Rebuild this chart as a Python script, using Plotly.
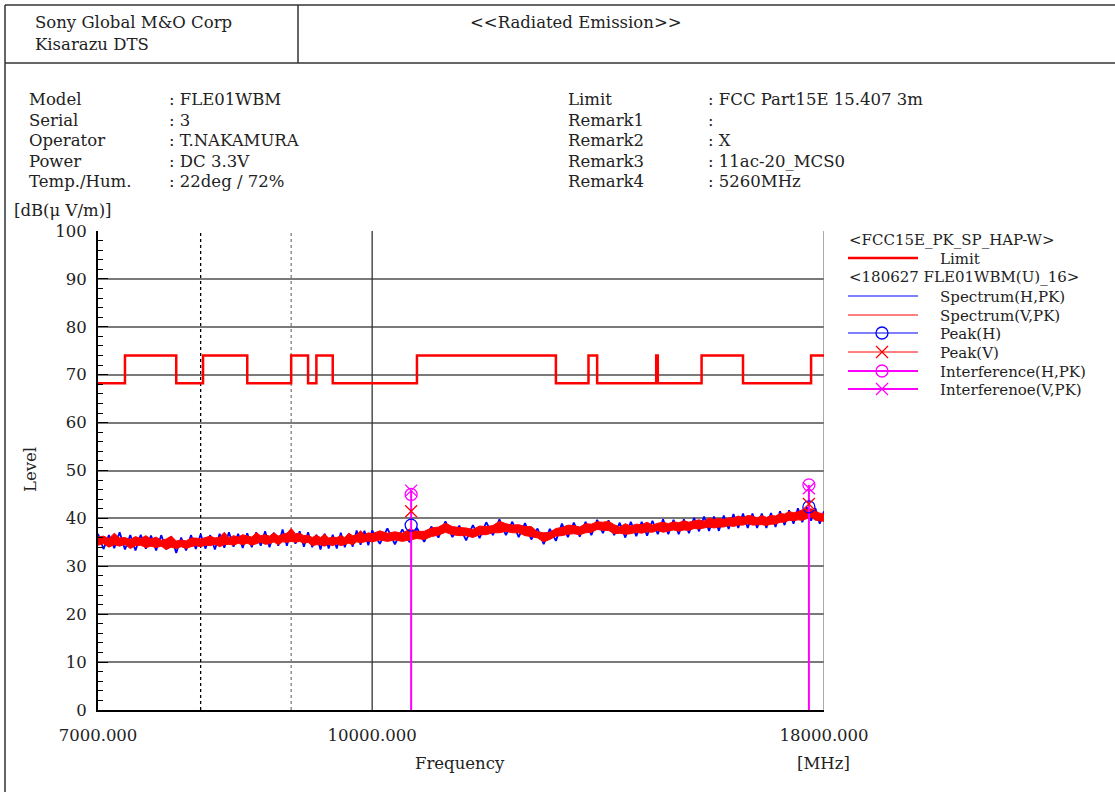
"""
Radiated Emission plot - FLE01WBM, 7-18 GHz, FCC Part15E 15.407 3m
"""

import plotly.graph_objects as go

# ---- data ---------------------------------------------------------------
# frequency grid of the sweep [MHz]
FREQ = list(range(7000, 10000, 50)) + list(range(10000, 18001, 100))

# Spectrum(H,PK) [dBuV/m]
SPEC_H = [
    36.8, 33.6, 36.5, 33.8, 37.1, 33.5, 36.5, 33.3, 36.6, 33.7,
    36.4, 33.3, 36.5, 33.5, 36.2, 32.8, 36.0, 33.3, 36.5, 33.6,
    36.7, 33.7, 36.5, 33.5, 36.8, 33.9, 37.1, 34.1, 36.8, 33.8,
    36.9, 34.0, 37.1, 34.3, 37.3, 34.0, 37.0, 34.3, 37.7, 34.3,
    37.6, 34.7, 37.3, 34.1, 37.1, 34.0, 36.6, 33.5, 36.8, 33.7,
    36.6, 33.7, 37.0, 34.0, 36.8, 34.1, 37.5, 34.5, 37.4, 34.4,
    37.5, 34.7, 37.9, 34.6, 37.7, 35.0, 38.0, 35.1, 38.3, 36.0,
    39.4, 36.1, 38.5, 35.4, 38.6, 35.9, 39.2, 36.5, 39.8, 36.5,
    39.3, 36.1, 39.0, 35.6, 37.9, 34.6, 37.8, 35.3, 38.9, 36.1,
    39.1, 36.2, 39.3, 36.5, 39.7, 36.9, 39.6, 36.5, 39.1, 36.0,
    39.3, 36.3, 39.3, 36.4, 39.5, 36.7, 39.8, 36.7, 39.7, 36.7,
    39.8, 36.9, 40.1, 37.3, 40.4, 37.4, 40.4, 37.4, 40.6, 37.8,
    40.9, 38.0, 41.0, 38.0, 41.0, 38.0, 41.0, 38.0, 41.1, 38.2,
    41.5, 38.6, 41.7, 38.9, 42.1, 39.2, 42.4, 39.5, 42.1, 38.9,
    41.5,
]

# Spectrum(V,PK) [dBuV/m], max / min of each display bucket
SPEC_V_MAX = [
    36.1, 36.3, 35.8, 36.9, 35.9, 36.0, 35.6, 36.2, 35.8, 36.4,
    35.7, 36.1, 35.4, 35.7, 36.3, 35.3, 35.5, 35.3, 35.9, 35.9,
    35.7, 36.0, 36.3, 35.9, 36.1, 37.1, 35.9, 36.4, 36.1, 36.6,
    36.4, 36.1, 37.0, 36.4, 36.6, 36.3, 37.0, 36.3, 36.7, 36.9,
    37.9, 36.8, 36.9, 36.4, 36.5, 36.0, 36.5, 36.0, 36.7, 35.9,
    36.1, 36.0, 36.4, 36.0, 36.9, 36.4, 36.6, 37.4, 36.6, 37.0,
    36.8, 37.4, 36.9, 37.2, 36.9, 37.8, 37.3, 37.3, 38.0, 38.2,
    39.0, 38.3, 38.1, 38.0, 37.7, 38.4, 38.3, 38.5, 39.4, 38.9,
    38.6, 38.7, 38.3, 38.3, 37.2, 37.0, 37.1, 37.9, 38.1, 38.6,
    38.5, 38.2, 38.9, 38.8, 39.3, 39.2, 39.4, 38.7, 38.2, 38.9,
    38.4, 38.8, 38.7, 39.2, 38.6, 39.0, 39.2, 38.9, 39.3, 39.1,
    39.5, 39.2, 39.5, 39.7, 39.4, 40.1, 39.8, 40.0, 39.8, 40.1,
    40.1, 40.5, 40.2, 40.6, 40.5, 40.1, 40.6, 40.2, 40.6, 40.5,
    41.0, 40.9, 41.4, 41.2, 41.4, 41.8, 41.9, 42.0, 41.5, 41.1,
    41.0,
]
SPEC_V_MIN = [
    34.4, 34.7, 34.0, 34.5, 34.2, 34.6, 33.7, 34.3, 34.4, 33.9,
    34.2, 33.9, 34.2, 33.5, 34.0, 33.7, 34.1, 33.7, 34.1, 34.3,
    34.1, 34.4, 34.3, 34.6, 34.1, 34.5, 34.6, 34.4, 34.8, 34.5,
    34.8, 34.4, 34.7, 35.0, 34.6, 34.7, 35.1, 34.5, 35.1, 35.0,
    35.2, 35.0, 35.2, 34.8, 35.0, 34.3, 34.5, 34.5, 34.2, 34.6,
    34.3, 34.7, 34.3, 34.6, 34.8, 34.5, 35.1, 34.9, 35.1, 35.3,
    35.1, 35.5, 35.2, 35.5, 35.2, 35.5, 35.8, 35.6, 36.2, 36.5,
    37.1, 36.6, 36.4, 36.4, 36.0, 36.6, 36.6, 37.0, 37.0, 37.3,
    37.0, 37.0, 36.4, 36.2, 35.9, 35.1, 35.6, 36.3, 36.4, 36.7,
    36.8, 36.6, 37.0, 37.1, 37.7, 37.5, 37.5, 36.8, 36.9, 36.7,
    36.8, 37.1, 36.9, 37.2, 37.1, 37.5, 37.1, 37.4, 37.6, 37.3,
    37.6, 37.5, 37.9, 37.8, 38.0, 38.2, 38.0, 38.2, 38.2, 38.5,
    38.3, 38.6, 38.6, 38.9, 38.6, 38.7, 38.7, 38.5, 38.8, 38.8,
    39.2, 39.2, 39.6, 39.5, 39.7, 39.6, 40.0, 40.3, 39.6, 39.5,
    39.4,
]

# FCC 15.407 limit (step, value held until next frequency)
LIMIT_FREQ = [7000, 7250, 7750, 8025, 8500, 9000, 9200, 9300, 9500, 10600,
              12700, 13250, 13400, 14470, 14500, 15350, 16200, 17700, 18000]
LIMIT_LEVEL = [68.2, 74.0, 68.2, 74.0, 68.2, 74.0, 68.2, 74.0, 68.2, 74.0,
               68.2, 74.0, 68.2, 74.0, 68.2, 74.0, 68.2, 74.0, 74.0]

# detected peaks
PEAK_FREQ = [10520, 17650]
PEAK_H = [38.6, 42.4]
PEAK_V = [41.5, 43.0]
INTERF_H = [45.0, 47.0]
INTERF_V = [45.8, 46.3]

# header info
INFO_LEFT = ["Model", "Serial", "Operator", "Power", "Temp./Hum."]
INFO_LEFT_VAL = ["FLE01WBM", "3", "T.NAKAMURA", "DC 3.3V", "22deg / 72%"]
INFO_RIGHT = ["Limit", "Remark1", "Remark2", "Remark3", "Remark4"]
INFO_RIGHT_VAL = ["FCC Part15E 15.407 3m", "", "X", "11ac-20_MCS0", "5260MHz"]

FONT = "DejaVu Serif"
FS = 16.5
RED = "#ff0000"
BLUE = "#0000ff"
MAG = "#ff00ff"

# plot area in pixels: x 98..824, y 231..710
L, R, T, B = 98, 824, 231, 710


def px(x):
    return (x - L) / (R - L)


def py(y):
    return (B - y) / (B - T)


fig = go.Figure()

# vertical grid lines (8000 dotted, 9000 dotted grey, 10000 solid)
for f, col, dash in [(8000, "black", "dot"), (9000, "#808080", "dot"),
                     (10000, "#333333", "solid"), (18000, "#808080", "solid")]:
    fig.add_trace(go.Scatter(x=[f, f], y=[0, 100], mode="lines",
                             line=dict(color=col, width=1.3, dash=dash),
                             hoverinfo="skip", showlegend=False))

fig.add_trace(go.Scatter(x=FREQ, y=SPEC_H, mode="lines", name="Spectrum(H,PK)",
                         line=dict(color=BLUE, width=1.8)))
fig.add_trace(go.Scatter(x=FREQ + FREQ[::-1], y=SPEC_V_MAX + SPEC_V_MIN[::-1],
                         mode="lines", fill="toself", fillcolor=RED,
                         name="Spectrum(V,PK)", line=dict(color=RED, width=1)))

fig.add_trace(go.Scatter(x=LIMIT_FREQ, y=LIMIT_LEVEL, mode="lines", name="Limit",
                         line=dict(color=RED, width=2.5, shape="hv")))

# interference stems down to the axis
stem_x, stem_y = [], []
for f, a, b in zip(PEAK_FREQ, INTERF_H, INTERF_V):
    stem_x += [f, f, None]
    stem_y += [0, max(a, b), None]
fig.add_trace(go.Scatter(x=stem_x, y=stem_y, mode="lines", line=dict(color=MAG, width=2),
                         hoverinfo="skip", showlegend=False))

mk = dict(size=12, line=dict(width=1.3))
fig.add_trace(go.Scatter(x=PEAK_FREQ, y=PEAK_H, mode="markers", name="Peak(H)",
                         marker=dict(symbol="circle-open", color=BLUE, **mk)))
fig.add_trace(go.Scatter(x=PEAK_FREQ, y=PEAK_V, mode="markers", name="Peak(V)",
                         marker=dict(symbol="x-thin-open", color=RED, **mk)))
fig.add_trace(go.Scatter(x=PEAK_FREQ, y=INTERF_H, mode="markers", name="Interference(H,PK)",
                         marker=dict(symbol="circle-open", color=MAG, **mk)))
fig.add_trace(go.Scatter(x=PEAK_FREQ, y=INTERF_V, mode="markers", name="Interferenoe(V,PK)",
                         marker=dict(symbol="x-thin-open", color=MAG, **mk)))

# ---- annotations / texts ----------------------------------------------------
ann = []


def text(x, y, s, anchor="left", angle=0, size=FS):
    ann.append(dict(x=px(x), y=py(y), xref="paper", yref="paper", text=s,
                    showarrow=False, xanchor=anchor, yanchor="middle", textangle=angle,
                    font=dict(family=FONT, size=size, color="#222222")))


text(33, 23, "Sony Global M&O Corp")
text(33, 44, "Kisarazu DTS")
text(468, 23, "&lt;&lt;Radiated Emission&gt;&gt;")

rows_y = [99, 120, 140, 161, 182]
for yy, a, b in zip(rows_y, INFO_LEFT, INFO_LEFT_VAL):
    text(27, yy, a)
    text(167, yy, ": " + b)
for yy, a, b in zip(rows_y, INFO_RIGHT, INFO_RIGHT_VAL):
    text(566, yy, a)
    text(706, yy, ": " + b if b else ":")

text(12, 211, "[dB(μ V/m)]")
text(30, 470, "Level", anchor="center", angle=-90)
text(460, 763, "Frequency", anchor="center")
text(823, 763, "[MHz]", anchor="center")

# custom legend
LFS = 15
text(847, 240, "&lt;FCC15E_PK_SP_HAP-W&gt;", size=LFS)
text(847, 277, "&lt;180627 FLE01WBM(U)_16&gt;", size=LFS)
legend_rows = [
    (258, "Limit", RED, 2.5, None),
    (296, "Spectrum(H,PK)", BLUE, 1, None),
    (315, "Spectrum(V,PK)", RED, 1, None),
    (333, "Peak(H)", BLUE, 1, "o"),
    (352, "Peak(V)", RED, 1, "x"),
    (371, "Interference(H,PK)", MAG, 2, "o"),
    (389, "Interferenoe(V,PK)", MAG, 2, "x"),
]

shapes = []
for yy, label, col, w, sym in legend_rows:
    text(938, yy + 1, label, size=LFS)
    shapes.append(dict(type="line", xref="paper", yref="paper", x0=px(848), x1=px(918),
                       y0=py(yy), y1=py(yy), line=dict(color=col, width=w)))
    if sym == "o":
        shapes.append(dict(type="circle", xref="paper", yref="paper",
                           xsizemode="pixel", ysizemode="pixel",
                           xanchor=px(882), yanchor=py(yy), x0=-6, x1=6, y0=-6, y1=6,
                           line=dict(color=col, width=1.3)))
    elif sym == "x":
        for d in (1, -1):
            shapes.append(dict(type="line", xref="paper", yref="paper",
                               xsizemode="pixel", ysizemode="pixel",
                               xanchor=px(882), yanchor=py(yy),
                               x0=-6, x1=6, y0=-6 * d, y1=6 * d,
                               line=dict(color=col, width=1.3)))

# page frame and header box
frame = "#333333"
for x0, y0, x1, y1 in [(5, 5, 1115, 5), (5, 5, 5, 792), (298, 5, 298, 63), (5, 63, 1115, 63)]:
    shapes.append(dict(type="line", xref="paper", yref="paper",
                       x0=px(x0), y0=py(y0), x1=px(x1), y1=py(y1),
                       line=dict(color=frame, width=1.5)))

fig.update_layout(
    width=1115, height=792,
    margin=dict(l=L, r=1115 - R, t=T, b=792 - B),
    paper_bgcolor="white", plot_bgcolor="white",
    showlegend=False,
    font=dict(family=FONT, size=FS, color="#222222"),
    annotations=ann, shapes=shapes,
    xaxis=dict(type="log", range=[3.845098, 4.255273], showgrid=False, zeroline=False,
               tickvals=[7000, 10000, 18000], ticktext=["7000.000", "10000.000", "18000.000"],
               ticks="", showline=True, linecolor="black", linewidth=2,
               ticklabelstandoff=9),
    yaxis=dict(range=[0, 100], dtick=10, showgrid=True, gridcolor="#7a7a7a", gridwidth=1.5,
               zeroline=False, showline=True, linecolor="black", linewidth=2,
               ticks="inside", ticklen=10, tickcolor="black", tickwidth=1.3,
               minor=dict(dtick=2, ticks="inside", ticklen=5, tickcolor="black", showgrid=False),
               ticklabelstandoff=6),
)

# page is shot at 1115x792, so drop the default body margin
fig.write_html("out.html", config={"displayModeBar": False},
               post_script="document.body.style.margin='0';")
